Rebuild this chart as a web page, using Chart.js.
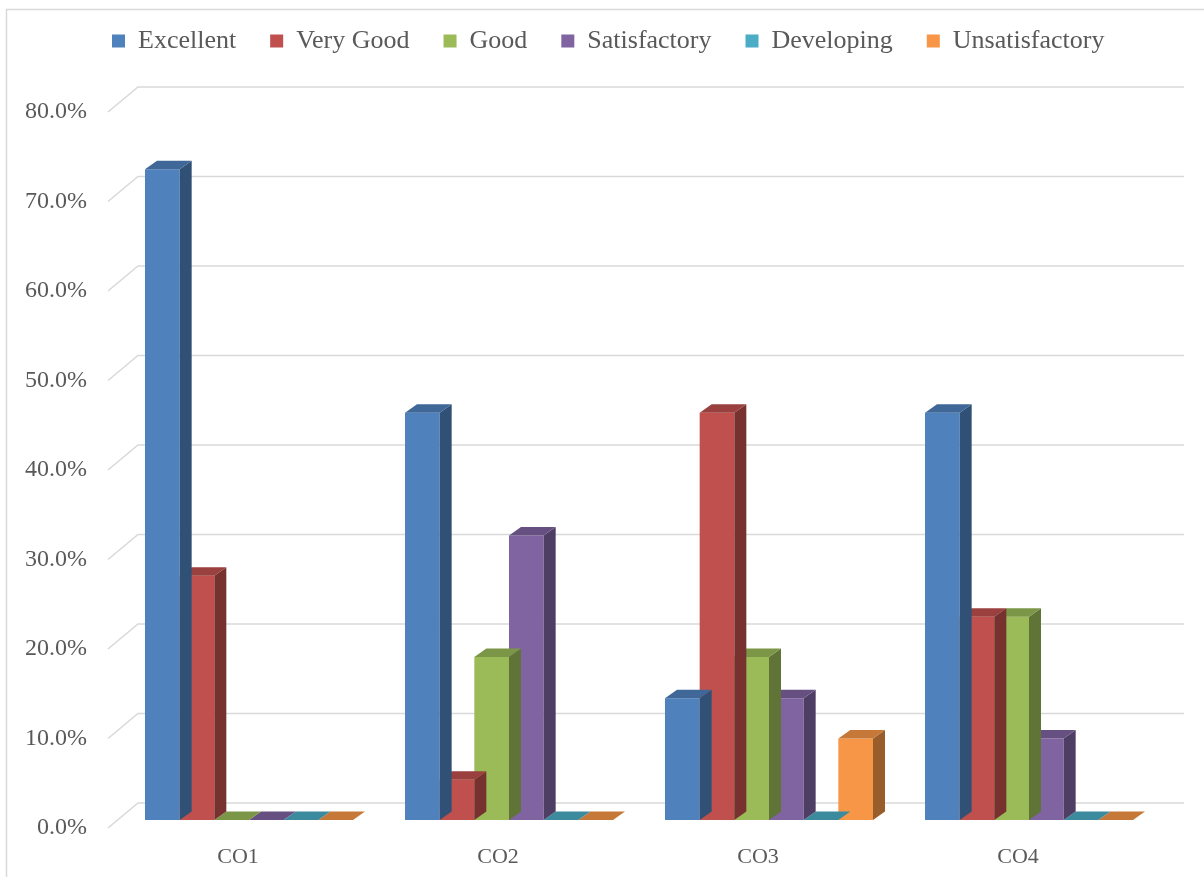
<!DOCTYPE html>
<html>
<head>
<meta charset="utf-8">
<script src="https://cdn.jsdelivr.net/npm/chart.js@4.4.1/dist/chart.umd.min.js"></script>
<style>
  html, body { margin: 0; padding: 0; background: #ffffff; }
  #wrap { position: relative; width: 1204px; height: 877px; }
</style>
</head>
<body>
<div id="wrap"><canvas id="chart" width="1204" height="877"></canvas></div>
<script>
// Course outcomes and the share of students at each attainment level
const categories = ['CO1', 'CO2', 'CO3', 'CO4'];
const excellent      = [0.727, 0.455, 0.136, 0.455];
const veryGood       = [0.273, 0.045, 0.455, 0.227];
const good           = [0.000, 0.182, 0.182, 0.227];
const satisfactory   = [0.000, 0.318, 0.136, 0.091];
const developing     = [0.000, 0.000, 0.000, 0.000];
const unsatisfactory = [0.000, 0.000, 0.091, 0.000];

const seriesNames  = ['Excellent', 'Very Good', 'Good', 'Satisfactory', 'Developing', 'Unsatisfactory'];
const seriesColors = ['#4F81BD', '#C0504D', '#9BBB59', '#8064A2', '#4BACC6', '#F79646'];

// Value axis ticks
const yTickValues = [0, 0.1, 0.2, 0.3, 0.4, 0.5, 0.6, 0.7, 0.8];
const yTickLabels = ['0.0%', '10.0%', '20.0%', '30.0%', '40.0%', '50.0%', '60.0%', '70.0%', '80.0%'];

const FONT = "'Liberation Serif', 'Times New Roman', serif";
const TEXT = '#595959';
const GRID = '#d9d9d9';

// Depth of each bar block and of the back wall (screen offset, up and to the right)
const BAR_DX = 12, BAR_DY = 8.5;
const WALL_DX = 19, WALL_DY = 17;
const FLOOR_DX = -11, FLOOR_DY = 8;
const LEGEND_START_X = 112;

function shade(hex, f) {
  const n = parseInt(hex.slice(1), 16);
  const r = Math.round(((n >> 16) & 255) * f);
  const g = Math.round(((n >> 8) & 255) * f);
  const b = Math.round((n & 255) * f);
  return `rgb(${r},${g},${b})`;
}

function poly(ctx, pts) {
  ctx.beginPath();
  ctx.moveTo(pts[0][0], pts[0][1]);
  for (let i = 1; i < pts.length; i++) ctx.lineTo(pts[i][0], pts[i][1]);
  ctx.closePath();
  ctx.fill();
}

// Light frame around the chart
const frame = {
  id: 'frame',
  beforeDraw(chart) {
    const ctx = chart.ctx;
    ctx.save();
    ctx.strokeStyle = GRID;
    ctx.lineWidth = 1.5;
    ctx.beginPath();
    ctx.moveTo(6.5, chart.height);
    ctx.lineTo(6.5, 9.5);
    ctx.lineTo(chart.width, 9.5);
    ctx.stroke();
    ctx.restore();
  }
};

// Back-wall gridlines with the short slanted run along the side wall
const wallGrid = {
  id: 'wallGrid',
  beforeDatasetsDraw(chart) {
    const ctx = chart.ctx;
    const y = chart.scales.y;
    const area = chart.chartArea;
    ctx.save();
    ctx.strokeStyle = GRID;
    ctx.lineWidth = 1.6;
    yTickValues.forEach(v => {
      const py = y.getPixelForValue(v);
      ctx.beginPath();
      ctx.moveTo(area.left + FLOOR_DX, py + FLOOR_DY);
      ctx.lineTo(area.left + WALL_DX, py - WALL_DY);
      ctx.lineTo(area.right + 25, py - WALL_DY);
      ctx.stroke();
    });
    ctx.restore();
  }
};

// Side and top faces of every bar, drawn right after its series so the next series covers them
const barDepth = {
  id: 'barDepth',
  afterDatasetDraw(chart, args) {
    const ctx = chart.ctx;
    const color = seriesColors[args.index];
    ctx.save();
    args.meta.data.forEach(bar => {
      const p = bar.getProps(['x', 'y', 'base', 'width'], true);
      const l = p.x - p.width / 2, r = p.x + p.width / 2;
      const t = Math.min(p.y, p.base), b = Math.max(p.y, p.base);
      ctx.fillStyle = shade(color, 0.62);
      poly(ctx, [[r, t], [r + BAR_DX, t - BAR_DY], [r + BAR_DX, b - BAR_DY], [r, b]]);
      ctx.fillStyle = shade(color, 0.8);
      poly(ctx, [[l, t], [l + BAR_DX, t - BAR_DY], [r + BAR_DX, t - BAR_DY], [r, t]]);
    });
    ctx.restore();
  }
};

// Fixed legend band height, with the row of entries placed over the plot
const legendBand = {
  id: 'legendBand',
  beforeUpdate(chart) {
    const lg = chart.legend;
    if (lg && !lg._bandPatched) {
      const fit = lg.fit;
      lg.fit = function () { fit.call(this); this.height = 110; };
      lg._bandPatched = true;
    }
  },
  afterLayout(chart) {
    const lg = chart.legend;
    if (!lg || !lg.lineWidths) return;
    const pad = lg.options.labels.padding;
    const start = (lg.left + pad + lg.right - lg.lineWidths[0]) / 2;
    const shift = LEGEND_START_X - start;
    lg.left += shift;
    lg.right += shift;
  }
};

const seriesData = [excellent, veryGood, good, satisfactory, developing, unsatisfactory];

new Chart(document.getElementById('chart'), {
  type: 'bar',
  data: {
    labels: categories,
    datasets: seriesNames.map((name, i) => ({
      label: name,
      data: seriesData[i],
      backgroundColor: seriesColors[i],
      borderWidth: 0,
      categoryPercentage: 0.8,
      barPercentage: 1.0
    }))
  },
  options: {
    responsive: false,
    animation: false,
    devicePixelRatio: 1,
    layout: { padding: { left: 0, right: 45, top: -6, bottom: 0 } },
    plugins: {
      legend: {
        position: 'top',
        align: 'center',
        labels: {
          boxWidth: 13,
          boxHeight: 13,
          padding: 34,
          color: TEXT,
          font: { family: FONT, size: 26 }
        }
      },
      tooltip: { enabled: false }
    },
    scales: {
      x: {
        grid: { display: false, drawTicks: false },
        border: { display: false },
        ticks: {
          color: TEXT,
          font: { family: FONT, size: 22 },
          padding: 24,
          labelOffset: -11
        },
        afterFit(scale) { scale.height = 57; }
      },
      y: {
        min: 0,
        max: 0.8,
        grid: { display: false, drawTicks: false },
        border: { display: false },
        afterBuildTicks(scale) { scale.ticks = yTickValues.map(v => ({ value: v })); },
        ticks: {
          color: TEXT,
          font: { family: FONT, size: 24 },
          padding: 32,
          labelOffset: 8,
          callback(value) {
            const i = yTickValues.findIndex(v => Math.abs(v - value) < 1e-9);
            return i >= 0 ? yTickLabels[i] : '';
          }
        },
        afterFit(scale) { scale.width = 119; }
      }
    }
  },
  plugins: [frame, wallGrid, barDepth, legendBand]
});
</script>
</body>
</html>
